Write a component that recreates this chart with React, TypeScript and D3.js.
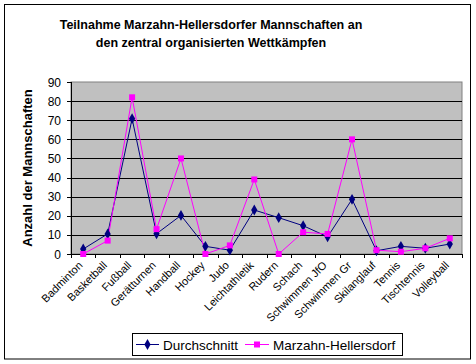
import React from "react";
import * as d3 from "d3";

const categories = [
  "Badminton", "Basketball", "Fußball", "Gerätturnen", "Handball", "Hockey", "Judo",
  "Leichtathletik", "Rudern", "Schach", "Schwimmen JfO", "Schwimmen Gr", "Skilanglauf",
  "Tennis", "Tischtennis", "Volleyball",
];
const durchschnitt = [2.6, 10.5, 70.8, 10.6, 20.2, 4, 2, 23, 19, 14.8, 9, 28.6, 1.7, 4, 3, 5.2];
const marzahn = [0, 7, 82, 13, 50, 0, 4.5, 39, 0, 11.4, 10.5, 60, 2, 1.2, 3, 8.2];
const yTicks = [0, 10, 20, 30, 40, 50, 60, 70, 80, 90];

const W = 476, H = 364;
const L = 71, R = 462, T = 82, B = 254;

export default function App() {
  const x = d3.scaleBand<string>().domain(categories).range([L, R]).padding(0);
  const y = d3.scaleLinear().domain([0, 90]).range([B, T]);
  const cx = (c: string) => (x(c) as number) + x.bandwidth() / 2;
  const line = d3.line<number>().x((_, i) => cx(categories[i])).y((v) => y(v));
  const diamond = d3.symbol().type(d3.symbolDiamond).size(34)() as string;
  const square = d3.symbol().type(d3.symbolSquare).size(36)() as string;
  const font = "Arial, 'Liberation Sans', sans-serif";
  return (
    <svg width={W} height={H} style={{ position: "absolute", left: 0, top: 0 }} fontFamily={font}>
      <rect x={0} y={0} width={W} height={H} fill="#fff" />
      <rect x={4.5} y={4.5} width={466} height={354.5} fill="#fff" stroke="#000" strokeWidth={1} />
      <text x={211} y={29} textAnchor="middle" fontSize={12.5} fontWeight="bold">
        Teilnahme Marzahn-Hellersdorfer Mannschaften an
      </text>
      <text x={211} y={47} textAnchor="middle" fontSize={12.5} fontWeight="bold">
        den zentral organisierten Wettkämpfen
      </text>
      <rect x={L} y={T} width={R - L} height={B - T} fill="#c0c0c0" stroke="#808080" strokeWidth={1} />
      {yTicks.filter((t) => t > 0 && t < 90).map((t) => (
        <line key={t} x1={L} x2={R} y1={Math.round(y(t)) + 0.5} y2={Math.round(y(t)) + 0.5} stroke="#000" strokeWidth={1} />
      ))}
      <line x1={L + 0.5} x2={L + 0.5} y1={T} y2={B + 0.5} stroke="#000" />
      <line x1={L} x2={R} y1={B + 0.5} y2={B + 0.5} stroke="#000" />
      {yTicks.map((t) => (
        <g key={t}>
          <line x1={L - 4} x2={L} y1={Math.round(y(t)) + 0.5} y2={Math.round(y(t)) + 0.5} stroke="#000" />
          <text x={L - 10} y={y(t) + 4.5} textAnchor="end" fontSize={12}>{t}</text>
        </g>
      ))}
      {categories.concat([""]).map((c, i) => {
        const xx = Math.round(L + i * x.bandwidth()) + 0.5;
        return <line key={i} x1={xx} x2={xx} y1={B} y2={B + 4} stroke="#000" />;
      })}
      {categories.map((c) => (
        <text key={c} transform={`translate(${cx(c)},${B + 12}) rotate(-45)`} textAnchor="end" fontSize={11}>
          {c}
        </text>
      ))}
      <text transform={`translate(32,${(T + B) / 2}) rotate(-90)`} textAnchor="middle" fontSize={13} fontWeight="bold">
        Anzahl der Mannschaften
      </text>
      <path d={line(durchschnitt) as string} fill="none" stroke="#000080" strokeWidth={1} />
      <path d={line(marzahn) as string} fill="none" stroke="#ff00ff" strokeWidth={1} />
      {durchschnitt.map((v, i) => (
        <path key={"d" + i} d={diamond} transform={`translate(${cx(categories[i])},${y(v)})`} fill="#000080" />
      ))}
      {marzahn.map((v, i) => (
        <path key={"m" + i} d={square} transform={`translate(${cx(categories[i])},${y(v)})`} fill="#ff00ff" />
      ))}
      <rect x={132.5} y={333.5} width={270} height={22} fill="#fff" stroke="#000" />
      <line x1={136} x2={159} y1={344.5} y2={344.5} stroke="#000080" />
      <path d={diamond} transform="translate(147.5,344.5)" fill="#000080" />
      <text x={163} y={349.5} fontSize={13.5}>Durchschnitt</text>
      <line x1={245} x2={269} y1={344.5} y2={344.5} stroke="#ff00ff" />
      <path d={square} transform="translate(257,344.5)" fill="#ff00ff" />
      <text x={273} y={349.5} fontSize={13.5}>Marzahn-Hellersdorf</text>
    </svg>
  );
}
